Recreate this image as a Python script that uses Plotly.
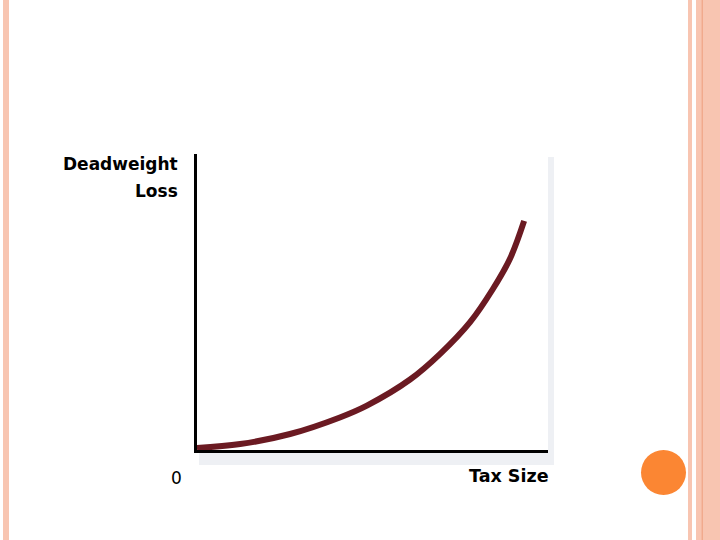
import plotly.graph_objects as go

# Data
tax_size = [0.0, 1.23, 2.65, 4.07, 4.84, 6.07, 6.92, 7.78, 8.43, 8.92, 9.32]
deadweight_loss = [0.07, 0.20, 0.54, 1.10, 1.50, 2.38, 3.24, 4.32, 5.44, 6.47, 7.74]

y_label_lines = ["Deadweight", "Loss"]
x_label = "Tax Size"
origin_label = "0"

W, H = 720, 540
L, R, T, B = 197, 548, 154, 450  # plot area in pixels


def px(x):
    return (x - L) / (R - L)


def py(y):
    return (B - y) / (B - T)


fig = go.Figure()
fig.add_trace(go.Scatter(
    x=tax_size, y=deadweight_loss, mode="lines",
    line=dict(color="#6B1A22", width=6, shape="spline", smoothing=1.0),
    hoverinfo="skip", showlegend=False,
))

shapes = []
# shadow behind plot area
shapes.append(dict(type="rect", xref="paper", yref="paper", layer="below",
                   x0=px(199), x1=px(554), y0=py(465), y1=py(157),
                   fillcolor="#EEF0F4", line=dict(width=0)))
shapes.append(dict(type="rect", xref="paper", yref="paper", layer="below",
                   x0=px(194), x1=px(548), y0=py(451), y1=py(150),
                   fillcolor="white", line=dict(width=0)))
# slide decorations
peach = "#F8C5B1"
shapes.append(dict(type="rect", xref="paper", yref="paper", layer="below",
                   x0=px(3), x1=px(9), y0=py(540), y1=py(0),
                   fillcolor=peach, line=dict(width=0)))
shapes.append(dict(type="rect", xref="paper", yref="paper", layer="below",
                   x0=px(688), x1=px(692), y0=py(540), y1=py(0),
                   fillcolor=peach, line=dict(width=0)))
shapes.append(dict(type="rect", xref="paper", yref="paper", layer="below",
                   x0=px(696), x1=px(720), y0=py(540), y1=py(0),
                   fillcolor=peach, line=dict(width=0)))
shapes.append(dict(type="rect", xref="paper", yref="paper", layer="below",
                   x0=px(701.7), x1=px(702.7), y0=py(540), y1=py(0),
                   fillcolor="#EE9E7E", line=dict(width=0)))
shapes.append(dict(type="circle", xref="paper", yref="paper", layer="above",
                   x0=px(641), x1=px(686), y0=py(495), y1=py(450),
                   fillcolor="#FB8633", line=dict(width=0)))

font = dict(family="DejaVu Sans", size=17, color="black")
annotations = [
    dict(xref="paper", yref="paper", x=px(180), y=py(164), xanchor="right", yanchor="middle",
         text="<b>%s</b>" % y_label_lines[0], showarrow=False, font=font),
    dict(xref="paper", yref="paper", x=px(180), y=py(191), xanchor="right", yanchor="middle",
         text="<b>%s</b>" % y_label_lines[1], showarrow=False, font=font),
    dict(xref="paper", yref="paper", x=px(176), y=py(478), xanchor="center", yanchor="middle",
         text=origin_label, showarrow=False, font=dict(family="DejaVu Sans", size=17, color="black")),
    dict(xref="paper", yref="paper", x=px(509), y=py(476), xanchor="center", yanchor="middle",
         text="<b>%s</b>" % x_label, showarrow=False, font=dict(family="DejaVu Sans", size=17.5, color="black")),
]

fig.update_layout(
    width=W, height=H,
    margin=dict(l=L, r=W - R, t=T, b=H - B, pad=0),
    paper_bgcolor="white", plot_bgcolor="rgba(0,0,0,0)",
    shapes=shapes, annotations=annotations, showlegend=False,
)
fig.update_xaxes(range=[0, 10], showgrid=False, zeroline=False, showticklabels=False,
                 ticks="", showline=True, linecolor="black", linewidth=3)
fig.update_yaxes(range=[0, 10], showgrid=False, zeroline=False, showticklabels=False,
                 ticks="", showline=True, linecolor="black", linewidth=3)

fig.write_html(
    "out.html",
    config={"displayModeBar": False},
    post_script="document.body.style.margin='0';document.body.style.overflow='hidden';",
)
